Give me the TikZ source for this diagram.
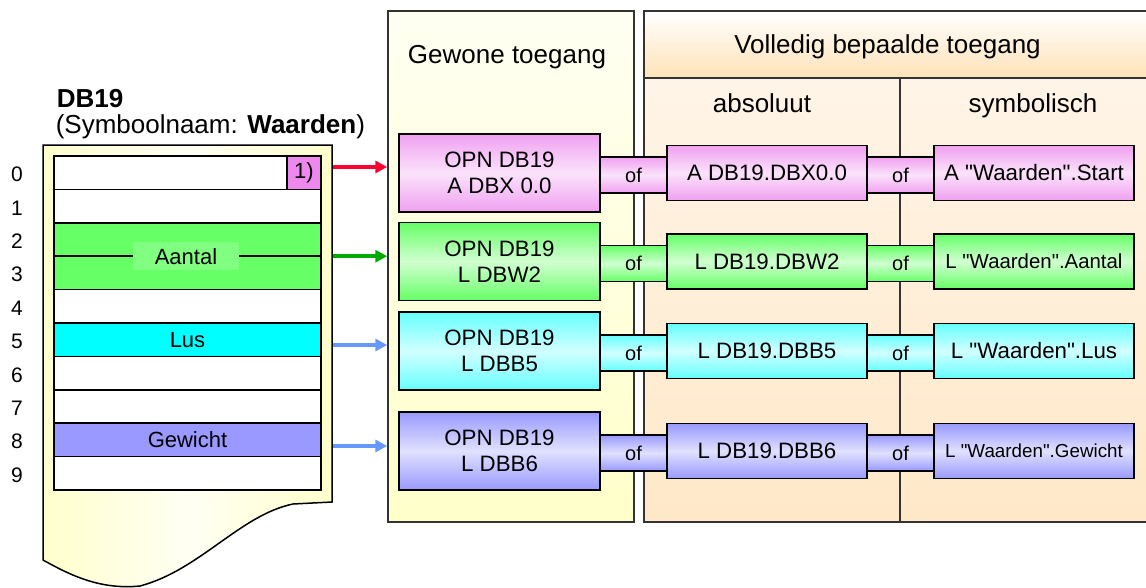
\documentclass[tikz,border=0pt]{standalone}
\usepackage{fontspec}
\setmainfont{Liberation Sans}[Ligatures=TeXOff]
\usetikzlibrary{arrows.meta}
\definecolor{pinkc}{HTML}{F0A0F0}
\definecolor{violc}{HTML}{EE88EE}
\definecolor{greenc}{HTML}{66FF66}
\definecolor{greenl}{HTML}{80FF80}
\definecolor{cyanc}{HTML}{00FFFF}
\definecolor{cyanb}{HTML}{66FFFF}
\definecolor{lilac}{HTML}{9999FF}
\definecolor{dbyel}{HTML}{FFFFCC}
\definecolor{dbwhite}{HTML}{FFFFF4}
\definecolor{gewtop}{HTML}{FFFFF2}
\definecolor{gewbot}{HTML}{FFFFCA}
\definecolor{voltop}{HTML}{FFF6EC}
\definecolor{volbot}{HTML}{FFE8C8}
\definecolor{volhd}{HTML}{FFE2B8}
\definecolor{arrred}{HTML}{FF0033}
\definecolor{arrgreen}{HTML}{00AA00}
\definecolor{arrblue}{HTML}{6699FF}
\newcommand{\boxfont}{\fontsize{22.3}{26}\selectfont}
\newcommand{\headfont}{\fontsize{26}{30}\selectfont}
\newcommand{\cellfont}{\fontsize{22}{26}\selectfont}
\newcommand{\numfont}{\fontsize{21}{24}\selectfont}
\newcommand{\ofont}{\fontsize{20}{23}\selectfont}
\newcommand{\qq}{\symbol{34}}
\newcommand{\accrow}[7]{%
  \node[ofbar, boxshade=#3] (oa#1) at (633.5,#2+2) {of};
  \node[ofbar, boxshade=#3] (ob#1) at (900.5,#2+2) {of};
  \node[accbox, boxshade=#3, minimum width=201pt, minimum height=78pt]
        (g#1) at (499.5,#2) {#4};
  \node[accbox, boxshade=#3, minimum height=55pt] (a#1) at (767,#2) {#5};
  \node[accbox, boxshade=#3, minimum height=55pt, font=#7]
        (s#1) at (1034,#2) {#6};
}

\begin{document}
\begin{tikzpicture}[x=1pt, y=-1pt, line width=1.5pt,
    >={Triangle[length=12pt, width=12pt]},
    cell/.style={draw, minimum width=267pt, minimum height=33.4pt,
                 inner sep=0pt, font=\cellfont},
    accbox/.style={draw, line width=1.8pt, minimum width=200pt,
                   inner sep=0pt, align=center, font=\boxfont},
    ofbar/.style={draw, line width=1.8pt, minimum width=67pt,
                  minimum height=36pt, inner sep=0pt, font=\ofont},
    boxshade/.style={top color=#1, bottom color=#1, middle color=#1!30!white},
    panel/.style={draw=black!80, inner sep=0pt},
    link/.style={->, line width=4pt}]
  \useasboundingbox (0,0) rectangle (1146,587);
  \draw[left color=dbyel, right color=dbyel, middle color=dbwhite]
    (43,145) -- (332,145) -- (332,502) -- (293,504)
    .. controls (240,515) and (200,570) .. (140,586)
    .. controls (100,590) and (70,575) .. (43,560) -- cycle;
  \node[anchor=base west, inner sep=0pt, font=\headfont\bfseries]
    (dbname) at (56,107) {DB19};
  \node[anchor=base west, inner sep=0pt, font=\headfont]
    (dbsym) at (55,133) {(Symboolnaam: \textbf{Waarden})};
  \foreach \i/\col/\txt in {0/white/, 1/white/, 4/white/, 5/cyanc/Lus,
      6/white/, 7/white/, 8/lilac/Gewicht, 9/white/}
    \node[cell, fill=\col] (c\i) at (187.5,{172.7+33.4*\i}) {\txt};
  \node[cell, fill=greenc, minimum height=66.8pt] (c23) at (187.5,256.2) {};
  \draw (c23.west) -- (c23.east);
  \node[fill=greenl, minimum width=106pt, minimum height=28pt,
        inner sep=0pt, font=\cellfont] (aantal) at (186,256.2) {Aantal};
  \node[cell, fill=violc, minimum width=34pt] (fn) at (304,172.7) {1)};
  \foreach \i in {0,...,9}
    \node[anchor=base, font=\numfont] (r\i) at (17,{181.7+33.4*\i}) {\i};

  \node[panel, minimum width=246pt, minimum height=511pt,
        top color=gewtop, bottom color=gewbot] (gew) at (511,266.5) {};
  \node[panel, minimum width=526pt, minimum height=511pt,
        top color=voltop, bottom color=volbot] (vol) at (907,266.5) {};
  \node[panel, line width=2pt, minimum width=526pt, minimum height=67pt,
        top color=white, bottom color=volhd] (volhead) at (907,44.5) {};
  \draw[black!80] (900,78) -- (900,522);
  \node[anchor=base, font=\headfont] (tgew) at (507,63) {Gewone toegang};
  \node[anchor=base, font=\headfont] (tvol) at (887.5,53)
    {Volledig bepaalde toegang};
  \node[anchor=base, font=\headfont] (tabs) at (762,112) {absoluut};
  \node[anchor=base, font=\headfont] (tsym) at (1033,112) {symbolisch};

  \accrow{1}{173}{pinkc}{OPN DB19\\A DBX 0.0}{A DB19.DBX0.0}
    {A \qq Waarden\qq.Start}{\boxfont}
  \accrow{2}{261.5}{greenc}{OPN DB19\\L DBW2}{L DB19.DBW2}
    {L \qq Waarden\qq.Aantal}{\fontsize{20.4}{24}\selectfont}
  \accrow{3}{351}{cyanb}{OPN DB19\\L DBB5}{L DB19.DBB5}
    {L \qq Waarden\qq.Lus}{\boxfont}
  \accrow{4}{451}{lilac}{OPN DB19\\L DBB6}{L DB19.DBB6}
    {L \qq Waarden\qq.Gewicht}{\fontsize{18.8}{22}\selectfont}

  \foreach \c/\dy/\col in {c0/-5.7/arrred, c23/0/arrgreen,
      c5/5.3/arrblue, c8/6.1/arrblue}
    \draw[link, \col] (\c.east) ++(11.5,\dy) coordinate (t) -- (gew.west |- t);
\end{tikzpicture}
\end{document}
